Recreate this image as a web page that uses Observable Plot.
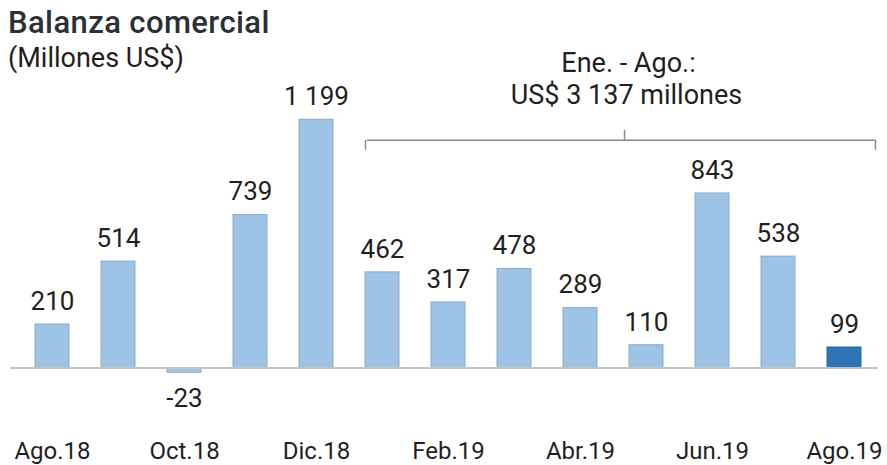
<!DOCTYPE html>
<html>
<head>
<meta charset="utf-8">
<script src="https://cdn.jsdelivr.net/npm/d3@7"></script>
<script src="https://cdn.jsdelivr.net/npm/@observablehq/plot@0.6"></script>
<style>
  html, body { margin: 0; padding: 0; background: #fff; }
  #wrap { position: relative; width: 887px; height: 465px; font-family: Roboto, "Noto Sans", sans-serif; }
  #title { position: absolute; left: 8px; top: 4px; font-size: 31px; font-weight: 500; color: #2b2f36; letter-spacing: 0.4px; }
  #subtitle { position: absolute; left: 8px; top: 42px; font-size: 27px; color: #1e1e1e; }
  #chart { position: absolute; left: 0; top: 0; }
</style>
</head>
<body>
<div id="wrap">
  <div id="chart"></div>
  <div id="title">Balanza comercial</div>
  <div id="subtitle">(Millones US$)</div>
</div>
<script>
const months = ["Ago.18","Set.18","Oct.18","Nov.18","Dic.18","Ene.19","Feb.19","Mar.19","Abr.19","May.19","Jun.19","Jul.19","Ago.19"];
const values = [210, 514, -23, 739, 1199, 462, 317, 478, 289, 110, 843, 538, 99];
const highlighted = ["Ago.19"];
const tickLabels = ["Ago.18","Oct.18","Dic.18","Feb.19","Abr.19","Jun.19","Ago.19"];
const bracketStart = "Ene.19";
const bracketEnd = "Ago.19";
const bracketLevel = 1100;
const bracketNote = ["Ene. - Ago.:", "US$ 3 137 millones"];
const noteMonth = "May.19";

const data = months.map((m, i) => ({month: m, value: values[i], hi: highlighted.includes(m)}));
const fmt = v => d3.format(",")(v).replace(/,/g, " ").replace("\u2212", "-");

const plot = Plot.plot({
  width: 887,
  height: 465,
  marginTop: 0,
  marginBottom: 30,
  marginLeft: 21,
  marginRight: 12,
  style: {fontFamily: "Roboto, 'Noto Sans', sans-serif", background: "transparent"},
  x: {domain: months, paddingInner: 0.49, paddingOuter: 0.2, axis: null},
  y: {domain: [-326, 1775], axis: null},
  marks: [
    Plot.barY(data, {
      x: "month", y: "value",
      fill: d => d.hi ? "#2e75b6" : "#9dc3e6",
      stroke: d => d.hi ? "#2a66a0" : "#8fabc6",
      strokeWidth: 1
    }),
    Plot.ruleY([0], {stroke: "#c4c4c4", strokeWidth: 2, insetLeft: -11, insetRight: -3}),
    Plot.text(data.filter(d => d.value >= 0), {
      x: "month", y: "value", text: d => fmt(d.value),
      dy: -23, fontSize: 26, fill: "#1f1f1f"
    }),
    Plot.text(data.filter(d => d.value < 0), {
      x: "month", y: "value", text: d => fmt(d.value),
      dy: 26, fontSize: 26, fill: "#1f1f1f"
    }),
    Plot.axisX({
      ticks: tickLabels, tickSize: 0, tickPadding: 6, fontSize: 24,
      color: "#1f1f1f", label: null
    }),
    // bracket
    Plot.ruleY([bracketLevel], {
      x1: () => bracketStart, x2: () => bracketEnd,
      insetLeft: 2, insetRight: -14,
      stroke: "#8a8a8a", strokeWidth: 1.5
    }),
    Plot.ruleX([bracketStart], {x: d => d, y1: bracketLevel, y2: bracketLevel - 48, dx: -17, stroke: "#8a8a8a", strokeWidth: 1.5}),
    Plot.ruleX([bracketEnd], {x: d => d, y1: bracketLevel, y2: bracketLevel - 48, dx: 31, stroke: "#8a8a8a", strokeWidth: 1.5}),
    Plot.ruleX([noteMonth], {x: d => d, y1: bracketLevel, y2: bracketLevel + 48, dx: -22, stroke: "#8a8a8a", strokeWidth: 1.5}),
    Plot.text([bracketNote[0]], {x: () => noteMonth, y: () => bracketLevel, text: d => d, dx: -18, dy: -77, fontSize: 27, fill: "#1f1f1f"}),
    Plot.text([bracketNote[1]], {x: () => noteMonth, y: () => bracketLevel, text: d => d, dx: -20, dy: -45, fontSize: 27, fill: "#1f1f1f"})
  ]
});
document.getElementById("chart").appendChild(plot);
</script>
</body>
</html>
